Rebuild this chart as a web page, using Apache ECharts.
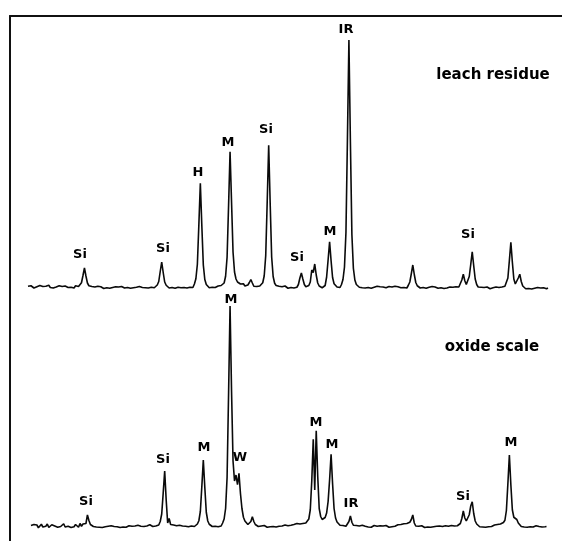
<!DOCTYPE html>
<html>
<head>
<meta charset="utf-8">
<script src="https://cdn.jsdelivr.net/npm/echarts@6/dist/echarts.min.js"></script>
<style>html,body{margin:0;padding:0;background:#fff}#c{width:562px;height:541px}</style>
</head>
<body>
<div id="c"></div>
<script>
// 2-theta scan: start angle and step (degrees)
const twoThetaStart = 10;
const twoThetaStep = 0.2;

// Leach residue intensities (arbitrary units), one value per step from 10 to 80 deg
const leachResidue = [
/*0*/   4.3,3.8,4.5,4.0,3.6,4.4,4.1,3.7,4.6,3.9,
/*10*/  4.2,3.5,4.3,4.0,4.7,3.8,4.1,3.6,4.4,4.0,
/*20*/  3.7,4.5,3.9,4.2,3.6,4.4,4.0,3.8,4.3,3.9,
/*30*/  4.1,3.6,4.5,3.8,4.2,4.6,5.7,8.6,11.6,8.4,
/*40*/  5.6,4.5,3.7,4.2,3.5,4.0,3.8,4.3,3.6,4.1,
/*50*/  3.9,3.4,4.2,3.7,4.0,3.5,4.3,3.8,3.6,4.1,
/*60*/  3.7,4.0,3.5,4.2,3.9,3.6,4.4,3.8,4.1,3.5,
/*70*/  4.0,3.7,4.3,3.9,3.6,4.2,4.0,3.8,4.4,3.7,
/*80*/  4.1,3.6,4.3,3.9,4.2,3.7,4.5,4.8,6.2,10.2,
/*90*/  14.0,9.8,6.0,4.7,4.1,3.6,4.2,3.8,4.0,3.5,
/*100*/ 4.3,3.9,4.1,3.7,4.4,3.8,4.0,3.6,4.2,3.9,
/*110*/ 4.1,3.8,5.2,7.3,13.1,28.9,45.5,28.5,12.8,7.0,
/*120*/ 5.0,4.2,3.7,4.3,3.9,4.5,3.8,4.1,4.4,3.9,
/*130*/ 4.6,4.8,5.6,8.3,15.9,36.5,58.1,38.0,18.0,10.0,
/*140*/ 7.2,6.0,6.6,5.2,4.6,5.3,4.4,4.0,4.8,5.8,
/*150*/ 7.0,5.6,4.3,4.8,4.2,3.9,4.4,4.1,5.7,8.5,
/*160*/ 16.5,38.0,60.7,37.5,16.0,8.2,5.5,4.6,3.9,4.3,
/*170*/ 3.7,4.1,3.6,4.4,3.9,3.5,4.2,3.8,4.0,3.6,
/*180*/ 4.3,3.9,5.0,7.6,9.6,7.2,5.0,4.1,3.7,4.6,
/*190*/ 6.0,10.8,9.8,13.2,8.8,5.6,4.4,4.0,3.7,4.3,
/*200*/ 4.6,8.0,14.9,22.1,14.5,7.8,5.3,4.5,4.0,4.3,
/*210*/ 3.8,5.0,7.0,11.9,25.7,63.0,102.8,62.0,25.0,11.5,
/*220*/ 6.8,5.0,4.4,3.9,4.3,3.7,4.1,3.6,4.4,3.8,
/*230*/ 4.0,3.5,4.2,3.9,3.6,4.3,3.8,4.1,3.5,4.0,
/*240*/ 4.4,3.7,3.9,4.2,3.6,4.0,3.8,4.3,3.5,4.1,
/*250*/ 3.9,3.7,4.2,3.8,4.0,3.6,4.7,6.0,9.3,12.8,
/*260*/ 9.0,5.8,4.5,4.0,3.6,4.1,3.8,4.3,3.5,4.0,
/*270*/ 3.9,3.7,4.2,3.6,4.0,3.8,3.5,4.1,3.7,3.9,
/*280*/ 3.4,4.2,3.6,3.8,4.0,3.5,3.9,3.7,4.1,3.6,
/*290*/ 4.0,4.8,6.8,9.1,6.5,5.0,5.6,8.2,13.0,18.1,
/*300*/ 12.5,7.2,5.0,4.0,3.6,3.9,3.4,3.8,3.5,4.0,
/*310*/ 3.6,3.3,3.9,3.7,3.5,4.0,3.6,3.8,4.2,4.0,
/*320*/ 3.7,4.3,5.1,7.6,14.6,21.9,14.0,7.2,5.2,5.8,
/*330*/ 7.6,9.1,6.2,4.4,3.7,3.3,3.7,3.4,3.9,3.2,
/*340*/ 3.6,3.5,3.1,3.8,3.4,3.6,3.2,3.7,3.5,3.3,3.6
];

// Oxide scale intensities (arbitrary units)
const oxideScale = [
/*0*/   null,null,4.2,3.5,4.6,3.8,4.4,3.3,4.1,4.7,
/*10*/  3.6,4.3,3.9,4.8,3.4,4.2,4.5,3.7,4.0,4.6,
/*20*/  3.5,4.3,3.8,4.4,4.9,3.6,4.1,3.9,4.5,3.4,
/*30*/  4.2,3.7,4.6,4.0,3.5,5.0,3.9,4.8,4.2,5.0,
/*40*/  8.4,6.2,4.6,5.4,3.8,4.3,3.6,4.1,3.5,3.9,
/*50*/  3.4,4.0,3.7,3.3,3.9,3.6,4.1,3.5,3.8,3.2,
/*60*/  3.7,4.0,3.4,3.9,3.6,4.2,3.5,3.8,4.1,3.6,
/*70*/  3.9,3.4,4.0,3.7,4.3,3.6,3.9,4.2,3.8,4.4,
/*80*/  4.0,3.7,4.5,4.1,3.8,4.3,4.0,4.6,4.4,5.8,
/*90*/  8.8,17.2,26.0,14.5,5.2,7.0,4.6,4.0,4.4,3.7,
/*100*/ 4.1,3.8,4.3,3.6,4.0,4.4,3.9,4.2,3.7,4.5,
/*110*/ 4.0,4.3,3.8,4.6,4.8,6.1,9.8,19.8,30.4,19.5,
/*120*/ 9.5,6.0,4.7,4.2,3.8,4.4,3.9,4.1,3.7,4.3,
/*130*/ 4.0,5.2,6.8,11.0,23.4,56.8,92.0,58.0,30.0,22.0,
/*140*/ 24.4,20.5,25.1,17.0,11.0,7.5,6.0,5.2,4.6,5.0,
/*150*/ 5.8,7.7,5.8,4.6,4.1,3.8,4.4,4.0,3.6,4.2,
/*160*/ 3.9,3.5,4.1,3.7,4.3,3.8,4.0,3.6,4.2,3.9,
/*170*/ 3.5,4.0,3.7,4.4,3.8,4.1,3.6,4.3,3.9,4.6,
/*180*/ 4.2,5.0,4.4,4.8,5.6,5.0,4.7,5.2,5.8,6.8,
/*190*/ 10.5,22.0,38.7,18.4,42.1,24.0,11.0,7.8,6.6,6.8,
/*200*/ 7.4,9.2,13.8,22.5,32.7,21.0,11.0,7.2,5.6,4.8,
/*210*/ 4.3,5.0,4.2,4.6,3.9,4.4,5.8,8.0,5.5,4.3,
/*220*/ 3.8,4.2,3.6,4.0,3.7,4.3,3.5,3.9,4.1,3.6,
/*230*/ 4.0,3.5,3.8,4.2,3.6,3.9,3.4,4.1,3.7,4.0,
/*240*/ 3.6,4.2,3.8,3.5,4.0,3.7,4.3,3.9,4.1,4.5,
/*250*/ 4.2,4.6,4.4,4.9,4.7,5.0,5.3,5.5,6.6,8.4,
/*260*/ 5.2,4.0,3.6,3.9,3.5,4.1,3.7,3.4,4.0,3.6,
/*270*/ 3.8,3.5,4.1,3.7,3.3,3.9,3.6,4.0,3.4,3.8,
/*280*/ 3.6,4.1,3.5,3.9,3.7,4.2,3.8,4.0,4.4,4.1,
/*290*/ 4.6,5.0,7.0,10.0,7.2,6.0,6.4,8.5,12.0,13.7,
/*300*/ 9.0,6.0,4.8,4.2,3.7,4.1,3.6,3.9,3.5,4.0,
/*310*/ 3.7,4.2,3.8,4.0,4.4,4.1,4.6,4.3,4.8,5.0,
/*320*/ 5.4,6.3,10.2,21.0,32.4,20.5,10.5,7.5,7.0,6.6,
/*330*/ 5.2,4.4,3.8,4.2,3.6,4.0,3.5,3.9,3.7,4.2,
/*340*/ 3.6,3.9,4.1,3.5,3.8,4.0,3.6,3.9,3.7,3.8,null
];

// Phase labels: [2theta, intensity, text]
const leachLabels = [
  [17.0, 16.8, 'Si'], [28.17, 19.2, 'Si'], [32.88, 49.6, 'H'], [36.92, 61.6, 'M'],
  [42.04, 66.8, 'Si'], [46.21, 15.6, 'Si'], [50.65, 26.0, 'M'], [52.81, 106.8, 'IR'],
  [69.23, 24.8, 'Si']
];
const oxideLabels = [
  [17.81, 13.6, 'Si'], [28.17, 30.4, 'Si'], [33.69, 35.2, 'M'], [37.33, 94.4, 'M'],
  [38.54, 31.2, 'W'], [48.77, 45.2, 'M'], [50.92, 36.4, 'M'], [53.48, 12.8, 'IR'],
  [68.56, 15.6, 'Si'], [75.02, 37.2, 'M']
];
const sampleTitles = [
  [72.6, 88.8, 'leach residue', 0],
  [72.46, 75.6, 'oxide scale', 1]
];

function toPairs(arr) {
  return arr.map((v, i) => [+(twoThetaStart + i * twoThetaStep).toFixed(2), v]);
}

const FONT = 'DejaVu Sans';
const INK = '#000000';
const chart = echarts.init(document.getElementById('c'), null, {renderer: 'canvas'});

const hiddenX = (gi) => ({type: 'value', gridIndex: gi, min: 10, max: 80, show: false});
const hiddenY = (gi, max) => ({type: 'value', gridIndex: gi, min: 0, max: max, show: false});

function labelSeries(list, gi, size) {
  return {
    type: 'scatter', xAxisIndex: gi, yAxisIndex: gi, symbolSize: 0, silent: true,
    itemStyle: {opacity: 1},
    data: list.map(d => ({value: [d[0], d[1]], name: d[2]})),
    label: {show: true, position: 'inside', formatter: p => p.name, opacity: 1,
      fontFamily: FONT, fontWeight: 'bold', fontSize: size, color: INK},
    z: 5
  };
}

chart.setOption({
  animation: false,
  backgroundColor: '#ffffff',
  grid: [
    {left: 28, right: 14, top: 22, bottom: 244},
    {left: 28, right: 14, top: 286, bottom: 5},
    {left: 10, right: 0, top: 16, bottom: 0}
  ],
  xAxis: [
    hiddenX(0), hiddenX(1),
    {type: 'value', gridIndex: 2, min: 0, max: 1, position: 'top',
     axisLine: {show: true, onZero: false, lineStyle: {color: '#111', width: 2}},
     axisTick: {show: false}, axisLabel: {show: false}, splitLine: {show: false}}
  ],
  yAxis: [
    hiddenY(0, 110), hiddenY(1, 100),
    {type: 'value', gridIndex: 2, min: 0, max: 1, position: 'left',
     axisLine: {show: true, onZero: false, lineStyle: {color: '#111', width: 2}},
     axisTick: {show: false}, axisLabel: {show: false}, splitLine: {show: false}}
  ],
  series: [
    {type: 'line', name: 'leach residue', xAxisIndex: 0, yAxisIndex: 0, data: toPairs(leachResidue),
     showSymbol: false, symbol: 'none', lineStyle: {color: '#0a0a0a', width: 1.6}, silent: true},
    {type: 'line', name: 'oxide scale', xAxisIndex: 1, yAxisIndex: 1, data: toPairs(oxideScale),
     showSymbol: false, symbol: 'none', connectNulls: false, lineStyle: {color: '#0a0a0a', width: 1.6}, silent: true},
    labelSeries(leachLabels, 0, 13),
    labelSeries(oxideLabels, 1, 13),
    {
      type: 'scatter', symbolSize: 0, silent: true, xAxisIndex: 0, yAxisIndex: 0, itemStyle: {opacity: 1},
      data: [{value: [sampleTitles[0][0], sampleTitles[0][1]], name: sampleTitles[0][2]}],
      label: {show: true, position: 'inside', formatter: p => p.name, opacity: 1,
        fontFamily: FONT, fontWeight: 'bold', fontSize: 15, color: INK}
    },
    {
      type: 'scatter', symbolSize: 0, silent: true, xAxisIndex: 1, yAxisIndex: 1, itemStyle: {opacity: 1},
      data: [{value: [sampleTitles[1][0], sampleTitles[1][1]], name: sampleTitles[1][2]}],
      label: {show: true, position: 'inside', formatter: p => p.name, opacity: 1,
        fontFamily: FONT, fontWeight: 'bold', fontSize: 15, color: INK}
    }
  ]
});
</script>
</body>
</html>
